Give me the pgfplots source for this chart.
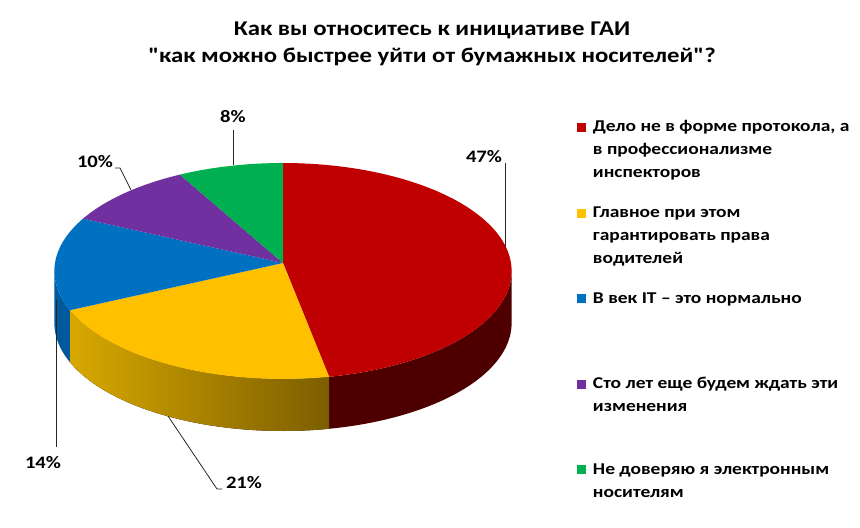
\documentclass[border=0pt]{standalone}
\usepackage{fontspec}
\setmainfont{Carlito}[Ligatures=TeXOff, FakeStretch=1.18]
\usepackage{pgfplots}
\pgfplotsset{compat=1.18}
\usepgfplotslibrary{fillbetween}
\definecolor{cRed}{HTML}{C00000}
\definecolor{cYel}{HTML}{FFC000}
\definecolor{cBlu}{HTML}{0070C0}
\definecolor{cPur}{HTML}{7030A0}
\definecolor{cGrn}{HTML}{00B050}
\definecolor{cRedS}{HTML}{4E0000}
\definecolor{cYelSL}{HTML}{D8A800}
\definecolor{cYelSR}{HTML}{7C5E00}
\definecolor{cBluS}{HTML}{00599C}
\begin{document}
\begin{tikzpicture}
% shares in percent
\def\vA{47}\def\vB{21}\def\vC{14}\def\vD{10}\def\vE{8}
\pgfmathsetmacro\eA{3.6*\vA}
\pgfmathsetmacro\eB{3.6*(\vA+\vB)}
\pgfmathsetmacro\eC{3.6*(\vA+\vB+\vC)}
\pgfmathsetmacro\eD{3.6*(\vA+\vB+\vC+\vD)}
\pgfmathsetmacro\eE{3.6*(\vA+\vB+\vC+\vD+\vE)}
\pgfmathsetmacro\sR{acos(-0.0741)}
\pgfmathsetmacro\sL{360-\sR}
\begin{axis}[
  scale only axis, width=860bp, height=527bp,
  xmin=0, xmax=860, ymin=0, ymax=527,
  enlargelimits=false, hide axis, clip=false,
  legend style={at={(0.6709,0.7801)}, anchor=north west, draw=none, fill=none,
    inner sep=0pt, outer sep=0pt, row sep=68bp, column sep=7bp,
    font=\fontsize{16.5bp}{23bp}\selectfont\bfseries,
    nodes={inner sep=0pt, outer sep=0pt}, cells={anchor=base west}},
  legend image code/.code={\fill[#1] (0bp,0bp) rectangle (9bp,9bp);},
  declare function={px(\t)=283+228*sin(\t)/(1+0.0741*cos(\t));
                    py(\t)=264+107.4*cos(\t)/(1+0.0741*cos(\t));},
]
\addplot[draw=none, forget plot] coordinates {(0,0) (860,527)};
% side faces
\addplot[draw=none, name path=rA, domain=\sR:\eA, samples=50, forget plot] ({px(x)},{py(x)});
\addplot[draw=none, name path=rB, domain=\sR:\eA, samples=50, forget plot] ({px(x)},{py(x)-52});
\addplot[fill=cRedS, draw=none, forget plot] fill between[of=rA and rB];
\addplot[draw=none, name path=yA, domain=\eA:\eB, samples=50, forget plot] ({px(x)},{py(x)});
\addplot[draw=none, name path=yB, domain=\eA:\eB, samples=50, forget plot] ({px(x)},{py(x)-52});
\addplot[left color=cYelSL, right color=cYelSR, draw=none, forget plot] fill between[of=yA and yB];
\addplot[draw=none, name path=bA, domain=\eB:\sL, samples=30, forget plot] ({px(x)},{py(x)});
\addplot[draw=none, name path=bB, domain=\eB:\sL, samples=30, forget plot] ({px(x)},{py(x)-52});
\addplot[fill=cBluS, draw=none, forget plot] fill between[of=bA and bB];
% top faces
\addplot[fill=cRed, draw=none, domain=0:\eA, samples=90] ({px(x)},{py(x)}) -- (axis cs:283,264) -- cycle;
\addlegendentry{\parbox[t]{265bp}{\strut Дело не в форме протокола, а\\\strut в профессионализме\\\strut инспекторов}}
\addplot[fill=cYel, draw=none, domain=\eA:\eB, samples=50] ({px(x)},{py(x)}) -- (axis cs:283,264) -- cycle;
\addlegendentry{\parbox[t]{265bp}{\strut Главное при этом\\\strut гарантировать права\\\strut водителей}}
\addplot[fill=cBlu, draw=none, domain=\eB:\eC, samples=40] ({px(x)},{py(x)}) -- (axis cs:283,264) -- cycle;
\addlegendentry{\parbox[t]{265bp}{\strut В век IT – это нормально}}
\addplot[fill=cPur, draw=none, domain=\eC:\eD, samples=30] ({px(x)},{py(x)}) -- (axis cs:283,264) -- cycle;
\addlegendentry{\parbox[t]{265bp}{\strut Сто лет еще будем ждать эти\\\strut изменения}}
\addplot[fill=cGrn, draw=none, domain=\eD:\eE, samples=30] ({px(x)},{py(x)}) -- (axis cs:283,264) -- cycle;
\addlegendentry{\parbox[t]{265bp}{\strut Не доверяю я электронным\\\strut носителям}}
% leader lines
\addplot[black!85, line width=0.8bp, forget plot] coordinates {(505,364) (505,280)};
\addplot[black!85, line width=0.8bp, forget plot] coordinates {(233,397) (233,362)};
\addplot[black!85, line width=0.8bp, forget plot] coordinates {(115,359) (120,359) (131,337)};
\addplot[black!85, line width=0.8bp, forget plot] coordinates {(56,227) (56,80)};
\addplot[black!85, line width=0.8bp, forget plot] coordinates {(222,38) (217,38) (168,111)};
% labels
\node[font=\fontsize{17.5bp}{20bp}\selectfont\bfseries] at (axis cs:484,370) {47\%};
\node[font=\fontsize{17.5bp}{20bp}\selectfont\bfseries] at (axis cs:233,410) {8\%};
\node[font=\fontsize{17.5bp}{20bp}\selectfont\bfseries] at (axis cs:95,365) {10\%};
\node[font=\fontsize{17.5bp}{20bp}\selectfont\bfseries] at (axis cs:43,64) {14\%};
\node[font=\fontsize{17.5bp}{20bp}\selectfont\bfseries] at (axis cs:244,44) {21\%};
% title
\node[anchor=base, font=\fontsize{21bp}{25bp}\selectfont\bfseries] at (axis cs:432,491) {Как вы относитесь к инициативе ГАИ};
\node[anchor=base, font=\fontsize{21bp}{25bp}\selectfont\bfseries] at (axis cs:432,464) {"как можно быстрее уйти от бумажных носителей"?};
\end{axis}
\end{tikzpicture}
\end{document}
